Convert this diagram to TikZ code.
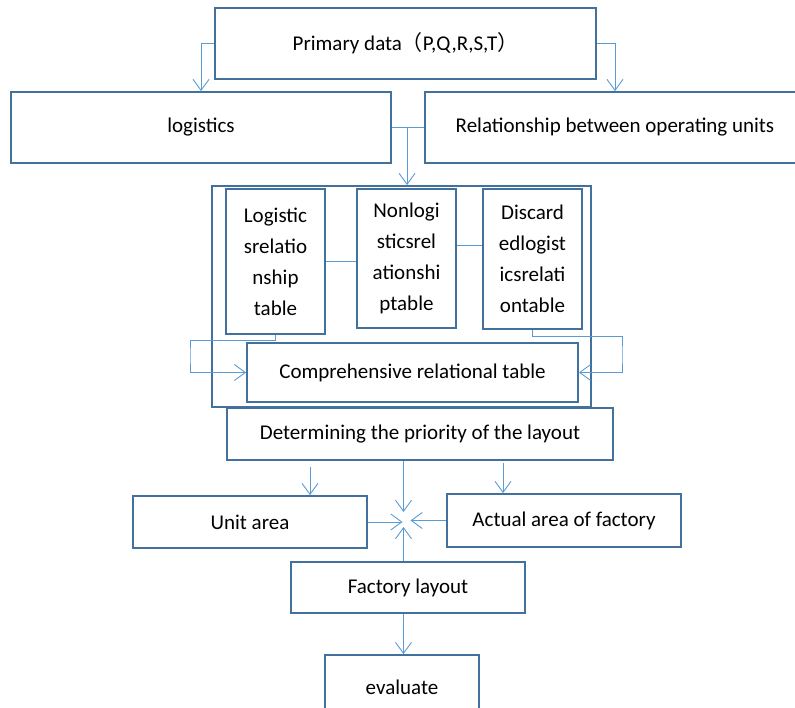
\documentclass[tikz,border=0pt]{standalone}
\usepackage{fontspec}
\setmainfont{Carlito}
\newfontfamily\cjk{Noto Sans CJK SC}
\usepackage{xcolor}
\usepackage{tikz}
\usetikzlibrary{arrows.meta}
\usetikzlibrary{positioning}
\definecolor{boxblue}{HTML}{41719C}
\definecolor{linkblue}{HTML}{5B9BD5}

\begin{document}
\begin{tikzpicture}[
  x=1pt,y=-1pt,
  box/.style={draw=boxblue,line width=1.8pt,inner sep=0pt,align=center},
  link/.style={draw=linkblue,line width=0.9pt,-{Straight Barb[length=11pt,width=16pt]}},
  plain/.style={draw=linkblue,line width=0.9pt},
  font=\fontsize{21}{31}\selectfont]
  \useasboundingbox (0,0) rectangle (795,708);
  \clip (0,0) rectangle (795,708);
  % top row
  \node[box,minimum width=381,minimum height=71] (primary) at (405.5,43.5) {Primary data{\cjk （}P,Q,R,S,T{\cjk ）}};
  \node[box,minimum width=380,minimum height=71] (logistics) at (201,127.5) {logistics};
  \node[box,minimum width=380,minimum height=71] (relation) at (615,127.5) {Relationship between operating units};
  % relation tables
  \node[box,minimum width=379,minimum height=221] (outer) at (401.5,296.5) {};
  \node[box,minimum width=99,minimum height=145] (logtab) at (275.5,261.5) {Logistic\\srelatio\\nship\\table};
  \node[box,minimum width=99,minimum height=139] (nontab) at (406.5,258.5) {Nonlogi\\sticsrel\\ationshi\\ptable};
  \node[box,minimum width=99,minimum height=140] (distab) at (532.5,259) {Discard\\edlogist\\icsrelati\\ontable};
  \node[box,minimum width=331,minimum height=59] (compr) at (412.5,372.5) {Comprehensive relational table};
  % layout
  \node[box,minimum width=386,minimum height=52] (prior) at (420,434) {Determining the priority of the layout};
  \node[box,minimum width=234,minimum height=52] (unit) at (250,522) {Unit area};
  \node[box,minimum width=234,minimum height=53] (actual) at (564,520.5) {Actual area of factory};
  \node[box,minimum width=234,minimum height=51] (factory) at (408,587.5) {Factory layout};
  \node[box,minimum width=154,minimum height=64] (evaluate) at (402,687) {evaluate};
  \coordinate (hub) at (403.5,520);
  \coordinate (ua) at (310,467);
  \coordinate (aa) at (503,463);

  \draw[link] (primary.west) -| (logistics.north);
  \draw[link] (primary.east) -| (relation.north);
  \draw[plain] (logistics.east) -- coordinate[pos=0.47] (mid) (relation.west);
  \draw[link] (mid) -- (mid |- outer.north);
  \draw[plain] (logtab.east) -- (nontab.west |- logtab.east);
  \draw[plain] (nontab.east |- 0,245.5) -- (distab.west |- 0,245.5);
  \draw[link] (logtab.south) -- ++(0,6) -| (190,355) |- (compr.west);
  \draw[link] (distab.south) -- ++(0,7) -| (622,355) |- (compr.east);
  \draw[link] (prior.south -| hub) -- ([yshift=8pt]hub);
  \draw[link] (unit.east) -- ([xshift=-1pt]hub |- unit.east);
  \draw[link] (actual.west) -- ([xshift=7pt]hub |- actual.west);
  \draw[link] (factory.north -| hub) -- ([yshift=-7pt]hub);
  \draw[link] (ua) -- (ua |- unit.north);
  \draw[link] (aa) -- (aa |- actual.north);
  \draw[link] (factory.south -| hub) -- (evaluate.north -| hub);
\end{tikzpicture}
\end{document}
